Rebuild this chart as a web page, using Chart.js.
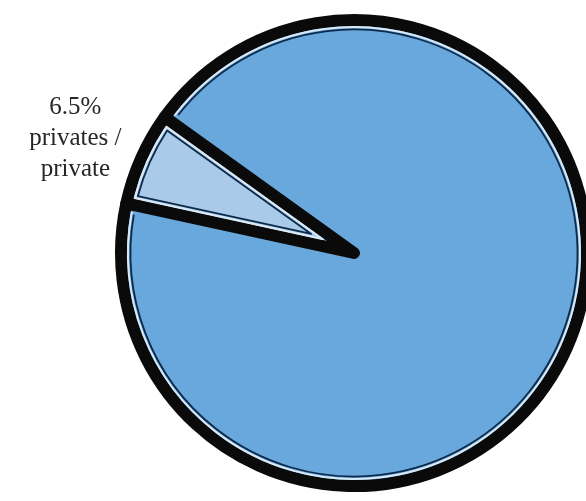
<!DOCTYPE html>
<html>
<head>
<meta charset="utf-8">
<script src="https://cdn.jsdelivr.net/npm/chart.js@4.4.1/dist/chart.umd.min.js"></script>
<style>
  html, body { margin: 0; padding: 0; background: #fff; }
  #wrap { width: 586px; height: 501px; }
</style>
</head>
<body>
<div id="wrap"><canvas id="myChart"></canvas></div>
<script>
const categories = ['privates / private', 'rest']
const shares = [6.5, 93.5]
const labelLines = [['privates /', 'private'], []]
const fills = ['#a9cae9', '#68a8dc']

const ctx = document.getElementById('myChart').getContext('2d')

// thin light + navy rims just inside the heavy black outline
const innerRims = {
    id: 'innerRims',
    afterDatasetsDraw(chart) {
        const c = chart.ctx
        chart.getDatasetMeta(0).data.forEach((arc) => {
            const {x, y, startAngle, endAngle, outerRadius} = arc.getProps(['x', 'y', 'startAngle', 'endAngle', 'outerRadius'], true)
            const span = endAngle - startAngle
            const rims = [
                {d: 7, color: '#dbe9f6', width: 2},
                {d: 9.5, color: '#0d2a4a', width: 1.8}
            ]
            rims.forEach(rim => {
                const r = outerRadius - rim.d
                const delta = Math.asin(rim.d / r)
                c.save()
                c.strokeStyle = rim.color
                c.lineWidth = rim.width
                c.lineJoin = 'round'
                c.beginPath()
                if (span < Math.PI) {
                    const mid = (startAngle + endAngle) / 2
                    const apex = rim.d / Math.sin(span / 2)
                    c.moveTo(x + apex * Math.cos(mid), y + apex * Math.sin(mid))
                    c.lineTo(x + r * Math.cos(startAngle + delta), y + r * Math.sin(startAngle + delta))
                    c.arc(x, y, r, startAngle + delta, endAngle - delta)
                    c.closePath()
                } else {
                    c.arc(x, y, r, startAngle + delta, endAngle - delta)
                }
                c.stroke()
                c.restore()
            })
        })
    }
}

// percentage + category text beside the small slice
const sliceLabels = {
    id: 'sliceLabels',
    afterDatasetsDraw(chart) {
        const c = chart.ctx
        chart.getDatasetMeta(0).data.forEach((arc, i) => {
            if (!labelLines[i].length) return
            const {x, y, startAngle, endAngle, outerRadius} = arc.getProps(['x', 'y', 'startAngle', 'endAngle', 'outerRadius'], true)
            const mid = (startAngle + endAngle) / 2
            const dist = outerRadius + 72
            const lx = x + dist * Math.cos(mid)
            const ly = y + dist * Math.sin(mid) + 9
            const lines = [shares[i].toFixed(1) + '%'].concat(labelLines[i])
            const lh = 31
            c.save()
            c.fillStyle = '#262626'
            c.font = '25px "Liberation Serif", serif'
            c.textAlign = 'center'
            c.textBaseline = 'middle'
            lines.forEach((t, k) => {
                c.fillText(t, lx, ly + (k - (lines.length - 1) / 2) * lh)
            })
            c.restore()
        })
    }
}

const chart = new Chart(ctx, {
    type: 'pie',
    data: {
        labels: categories,
        datasets: [{
            data: shares,
            backgroundColor: fills,
            borderColor: '#0a0a0a',
            borderWidth: 12,
            borderJoinStyle: 'round',
            clip: false
        }]
    },
    options: {
        responsive: true,
        maintainAspectRatio: false,
        animation: false,
        rotation: 282.3,
        radius: 233,
        layout: {
            padding: {left: 122, right: 0, top: 5, bottom: 0}
        },
        plugins: {
            legend: {display: false},
            tooltip: {enabled: false}
        }
    },
    plugins: [innerRims, sliceLabels]
})
</script>
</body>
</html>
